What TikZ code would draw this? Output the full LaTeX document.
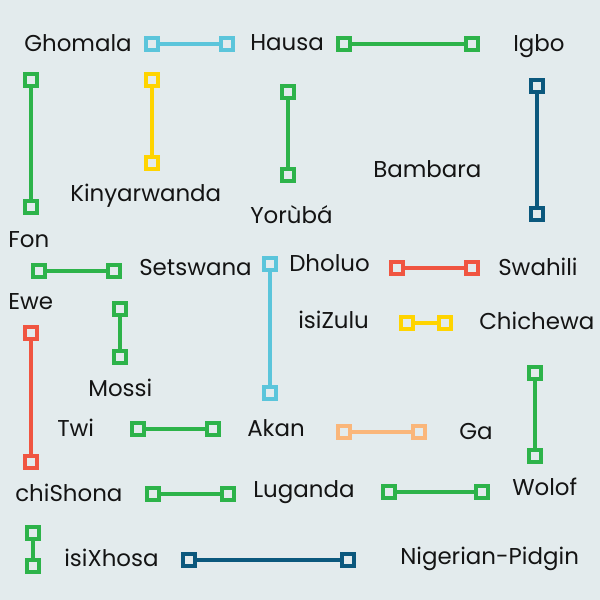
\documentclass[tikz,border=0pt]{standalone}
\usepackage{fontspec}
\setmainfont{Poppins}
\usepackage{tikz}
\usetikzlibrary{positioning}
\definecolor{langBg}{HTML}{E3EBED}
\definecolor{langInk}{HTML}{141414}
\definecolor{langCyan}{HTML}{5BC5DB}
\definecolor{langGreen}{HTML}{2DB34A}
\definecolor{langYellow}{HTML}{FFD400}
\definecolor{langNavy}{HTML}{0B587D}
\definecolor{langRed}{HTML}{F05541}
\definecolor{langOrange}{HTML}{FAB67A}
\tikzset{
  lang/.style={anchor=base west, inner sep=0pt, text=langInk, font=\fontsize{16.3}{18}\selectfont},
  endsq/.style={rectangle, draw=#1, fill=langBg, line width=3pt, minimum size=0.295cm, inner sep=0pt},
  link/.style={draw=#1, line width=2.7pt}
}

\begin{document}
\begin{tikzpicture}[x=0.025cm,y=-0.025cm]

\path[use as bounding box, fill=langBg] (0,0) rectangle (600,600);

% language labels
\node[lang] (ghomala) at (24,51) {Ghomala};
\node[lang] (hausa) at (250,50) {Hausa};
\node[lang] (igbo) at (513,51) {Igbo};
\node[lang] (kinyarwanda) at (70,201) {Kinyarwanda};
\node[lang] (bambara) at (373,177) {Bambara};
\node[lang] (yoruba) at (250,223) {Yorùbá};
\node[lang] (fon) at (8,247) {Fon};
\node[lang] (setswana) at (139,275) {Setswana};
\node[lang] (dholuo) at (289,271) {Dholuo};
\node[lang] (swahili) at (498,275) {Swahili};
\node[lang] (ewe) at (8,309) {Ewe};
\node[lang] (isizulu) at (298,328) {isiZulu};
\node[lang] (chichewa) at (479,329) {Chichewa};
\node[lang] (mossi) at (88,396) {Mossi};
\node[lang] (twi) at (57,436) {Twi};
\node[lang] (akan) at (247,436) {Akan};
\node[lang] (ga) at (459,439) {Ga};
\node[lang] (chishona) at (15,501) {chiShona};
\node[lang] (luganda) at (253,497) {Luganda};
\node[lang] (wolof) at (512,495) {Wolof};
\node[lang] (isixhosa) at (64,566) {isiXhosa};
\node[lang] (pidgin) at (400,564) {Nigerian-Pidgin};

% segment end points
\node[endsq=langCyan] (ghA) at (152,44) {};
\node[endsq=langCyan] (ghB) at (227,44) {};
\node[endsq=langGreen] (haA) at (344,44) {};
\node[endsq=langGreen] (haB) at (472,44) {};
\node[endsq=langGreen] (foA) at (31,80) {};
\node[endsq=langGreen] (foB) at (31,207) {};
\node[endsq=langYellow] (kiA) at (152,80) {};
\node[endsq=langYellow] (kiB) at (152,163) {};
\node[endsq=langGreen] (yoA) at (288,92) {};
\node[endsq=langGreen] (yoB) at (288,175) {};
\node[endsq=langNavy] (igA) at (537,86) {};
\node[endsq=langNavy] (igB) at (537,214) {};
\node[endsq=langGreen] (seA) at (39,271) {};
\node[endsq=langGreen] (seB) at (114,271) {};
\node[endsq=langCyan] (dhA) at (270,264) {};
\node[endsq=langCyan] (dhB) at (270,393) {};
\node[endsq=langRed] (swA) at (397,268) {};
\node[endsq=langRed] (swB) at (472,268) {};
\node[endsq=langYellow] (zuA) at (407,323) {};
\node[endsq=langYellow] (zuB) at (445,323) {};
\node[endsq=langGreen] (moA) at (120,309) {};
\node[endsq=langGreen] (moB) at (120,357) {};
\node[endsq=langRed] (ewA) at (31,333) {};
\node[endsq=langRed] (ewB) at (31,462) {};
\node[endsq=langGreen] (woA) at (535,373) {};
\node[endsq=langGreen] (woB) at (535,456) {};
\node[endsq=langGreen] (twA) at (138,429) {};
\node[endsq=langGreen] (twB) at (213,429) {};
\node[endsq=langOrange] (gaA) at (344,432) {};
\node[endsq=langOrange] (gaB) at (419,432) {};
\node[endsq=langGreen] (shA) at (153,494) {};
\node[endsq=langGreen] (shB) at (228,494) {};
\node[endsq=langGreen] (luA) at (389,492) {};
\node[endsq=langGreen] (luB) at (482,492) {};
\node[endsq=langGreen] (xhA) at (33,533) {};
\node[endsq=langGreen] (xhB) at (33,566) {};
\node[endsq=langNavy] (piA) at (189,560) {};
\node[endsq=langNavy] (piB) at (348,560) {};

% connectors
\draw[link=langCyan] (ghA) -- (ghB);
\draw[link=langGreen] (haA) -- (haB);
\draw[link=langGreen] (foA) -- (foB);
\draw[link=langYellow] (kiA) -- (kiB);
\draw[link=langGreen] (yoA) -- (yoB);
\draw[link=langNavy] (igA) -- (igB);
\draw[link=langGreen] (seA) -- (seB);
\draw[link=langCyan] (dhA) -- (dhB);
\draw[link=langRed] (swA) -- (swB);
\draw[link=langYellow] (zuA) -- (zuB);
\draw[link=langGreen] (moA) -- (moB);
\draw[link=langRed] (ewA) -- (ewB);
\draw[link=langGreen] (woA) -- (woB);
\draw[link=langGreen] (twA) -- (twB);
\draw[link=langOrange] (gaA) -- (gaB);
\draw[link=langGreen] (shA) -- (shB);
\draw[link=langGreen] (luA) -- (luB);
\draw[link=langGreen] (xhA) -- (xhB);
\draw[link=langNavy] (piA) -- (piB);

\end{tikzpicture}
\end{document}
